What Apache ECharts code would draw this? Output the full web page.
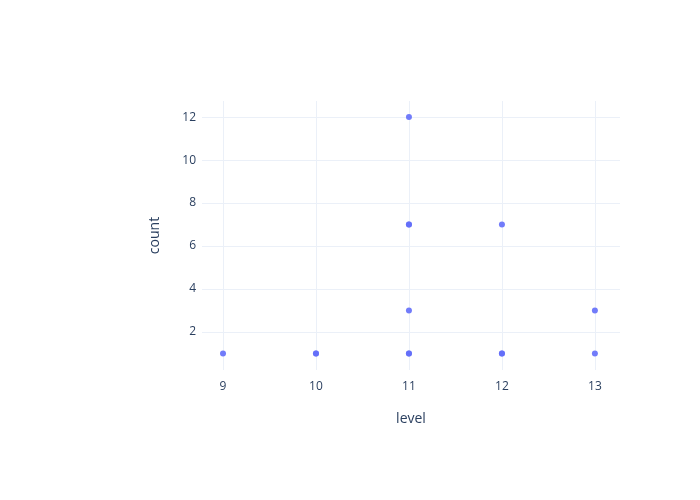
<!DOCTYPE html>
<html><head><meta charset="utf-8">
<script src="https://cdn.jsdelivr.net/npm/echarts@6/dist/echarts.min.js"></script>
<style>html,body{margin:0;padding:0;background:#fff}#c{width:700px;height:500px}</style>
</head><body><div id="c"></div>
<script>
const levels = [9, 10, 10, 11, 11, 11, 11, 11, 11, 12, 12, 12, 13, 13];
const counts = [1, 1, 1, 1, 1, 3, 7, 7, 12, 1, 1, 7, 1, 3];
const xTicks = [9, 10, 11, 12, 13];
const yTicks = [2, 4, 6, 8, 10, 12];

const data = levels.map((l, i) => [l, counts[i]]);
const font = 'Open Sans';
const txt = '#2a3f5f';
const gridCol = '#ebf0f8';
const chart = echarts.init(document.getElementById('c'));
chart.setOption({
  animation: false,
  grid: {left: 202, right: 80, top: 101, bottom: 130, containLabel: false},
  xAxis: {
    type: 'value', min: 8.774, max: 13.27,
    name: 'level', nameLocation: 'middle', nameGap: 42,
    nameTextStyle: {fontFamily: font, fontSize: 14, color: txt},
    axisLine: {show: false}, axisTick: {show: false, customValues: xTicks},
    axisLabel: {customValues: xTicks, fontFamily: font, fontSize: 12, color: txt, margin: 11},
    splitLine: {show: true, lineStyle: {color: gridCol, width: 1}}
  },
  yAxis: {
    type: 'value', min: 0.23, max: 12.75,
    name: 'count', nameLocation: 'middle', nameGap: 40,
    nameTextStyle: {fontFamily: font, fontSize: 14, color: txt},
    axisLine: {show: false}, axisTick: {show: false, customValues: yTicks},
    axisLabel: {customValues: yTicks, fontFamily: font, fontSize: 12, color: txt, margin: 6},
    splitLine: {show: true, lineStyle: {color: gridCol, width: 1}}
  },
  series: [{
    type: 'scatter', data: data, symbolSize: 6,
    itemStyle: {color: '#636efa', opacity: 0.9}
  }]
});
</script></body></html>
